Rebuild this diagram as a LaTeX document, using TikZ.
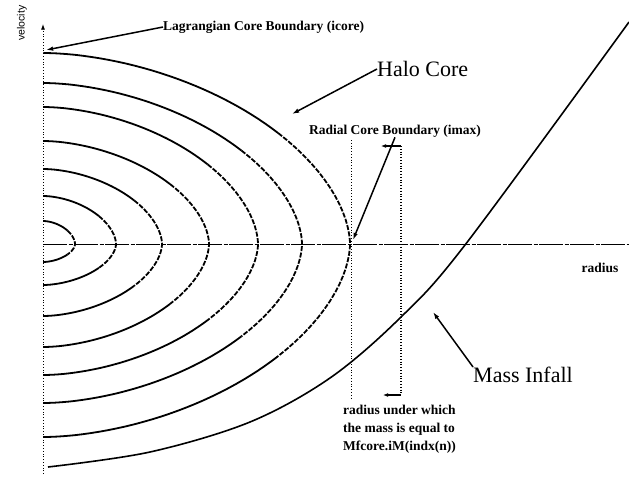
\documentclass[tikz,border=0pt]{standalone}
\usepackage{fontspec}
\setmainfont{Liberation Serif}
\setsansfont{Liberation Sans}
\usetikzlibrary{arrows.meta}

\begin{document}
\begin{tikzpicture}[x=1pt, y=-1pt,
    lbl/.style={font=\fontsize{13.5}{18}\selectfont\bfseries, inner sep=0pt},
    big/.style={font=\fontsize{22}{26}\selectfont, inner sep=0pt},
    contour/.style={line width=1.8pt},
    nose/.style={line width=1.8pt, dash pattern=on 5pt off 1.5pt},
    lead/.style={line width=1.5pt, -{Latex[length=2.5mm, width=1.6mm]}},
    tick/.style={line width=1.2pt, -{Latex[length=1.8mm, width=1.4mm]}},
    guide/.style={line width=0.8pt, dotted}]
  \useasboundingbox (0,0) rectangle (629,482);
  \coordinate (o) at (43,244);
  \draw[guide, -{Latex[length=2mm, width=1.4mm]}] (43,474) -- (43,24) coordinate (vtip);
  \draw[line width=0.7pt, dash pattern=on 24pt off 1.5pt on 4pt off 1.5pt] (o) -- (629,244) coordinate (rend);
  \foreach \w/\ht/\hb in {32/23/18, 73/48/41, 119/75/72, 166/103/103, 215/137/131, 259/161/159, 307/191/193}{
    \draw[contour] plot[domain=89.9:38, samples=30] ({43+\w*pow(cos(\x),1.12)}, {244-\ht*pow(sin(\x),1.12)});
    \draw[nose] plot[domain=38:-38, samples=30] ({43+\w*pow(cos(\x),1.12)}, {244-(\x>0 ? \ht : -\hb)*pow(abs(sin(\x)),1.12)});
    \draw[contour] plot[domain=-38:-89.9, samples=30] ({43+\w*pow(cos(\x),1.12)}, {244+\hb*pow(abs(sin(\x)),1.12)});
  }
  \draw[line width=1.6pt] plot[smooth, tension=0.55] coordinates {(48,467) (150,452) (250,422) (330,378) (400,318) (465,245) (629,22)};
  \draw[guide] (351,140) -- (351,400);
  \draw[guide, line width=1.3pt] (401,146) -- (401,395);
  \draw[tick] (401,146) -- (381,146);
  \draw[tick] (401,395) -- (383,395);
  \node[lbl, anchor=west] (icore) at (163,27) {Lagrangian Core Boundary (icore)};
  \node[big, anchor=west] (halo) at (377,69) {Halo Core};
  \node[lbl] (imax) at (395,131) {Radial Core Boundary (imax)};
  \node[big, anchor=west] (infall) at (473,375) {Mass Infall};
  \node[lbl, anchor=north west, align=left] (mfcore) at (343,405) {radius under which\\the mass is equal to\\Mfcore.iM(indx(n))};
  \node[lbl] (rad) at (600,268) {radius};
  \node[font=\sffamily\fontsize{10.5}{12}\selectfont, rotate=90, inner sep=0pt] (vel) at (22,23) {velocity};
  \coordinate (icoreend) at (46,50);
  \coordinate (haloend) at (292,114);
  \coordinate (imaxend) at (353,240);
  \coordinate (infallend) at (433,312);
  \draw[lead] (icore.west) -- (icoreend);
  \draw[lead] (halo.west) -- (haloend);
  \draw[lead] (imax.south) -- (imaxend);
  \draw[lead] (infall.north west) -- (infallend);
\end{tikzpicture}
\end{document}
